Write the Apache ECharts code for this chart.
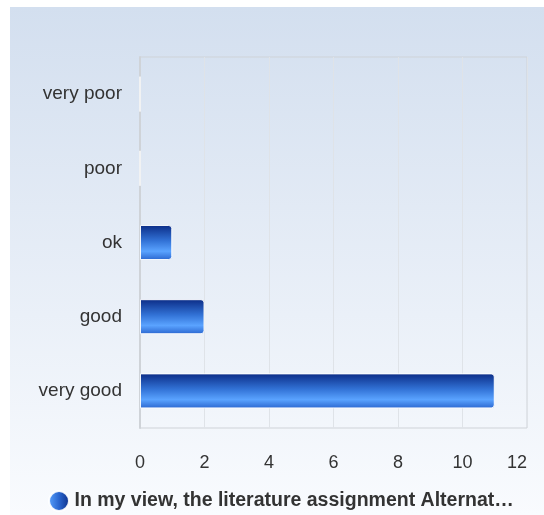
<!DOCTYPE html>
<html>
<head>
<meta charset="utf-8">
<script src="https://cdn.jsdelivr.net/npm/echarts@6/dist/echarts.min.js"></script>
<style>
    html, body { margin: 0; padding: 0; background: #fff; }
    #myChart { width: 544px; height: 515px; }
</style>
</head>
<body>
<div id="myChart"></div>
<script>
    // categories, bottom to top as ECharts draws a category y axis
    var categories = ['very good', 'good', 'ok', 'poor', 'very poor'];
    var counts = [11, 2, 1, 0, 0];
    var seriesName = 'In my view, the literature assignment Alternat\u2026';
    var xTicks = [0, 2, 4, 6, 8, 10, 12];

    var barColor = new echarts.graphic.LinearGradient(0, 0, 0, 1, [
        { offset: 0, color: '#0b2c86' },
        { offset: 0.45, color: '#3272d6' },
        { offset: 0.75, color: '#5aa3ff' },
        { offset: 1, color: '#2a66cf' }
    ]);
    var legendColor = new echarts.graphic.LinearGradient(0, 0, 1, 0, [
        { offset: 0, color: '#5aa3ff' },
        { offset: 0.5, color: '#2a66cf' },
        { offset: 1, color: '#0b2c86' }
    ]);

    var myChart = echarts.init(document.getElementById('myChart'));
    var options = {
        animation: false,
        graphic: [{
            type: 'rect',
            z: -10,
            silent: true,
            shape: { x: 10, y: 7, width: 534, height: 508 },
            style: {
                fill: new echarts.graphic.LinearGradient(0, 0, 0, 1, [
                    { offset: 0, color: '#d3dfef' },
                    { offset: 1, color: '#f9fbfe' }
                ])
            }
        }],
        grid: {
            left: 140,
            top: 57,
            right: 17,
            bottom: 87,
            show: true,
            borderColor: '#cfd3d8',
            borderWidth: 1,
            backgroundColor: 'transparent'
        },
        legend: {
            top: 490,
            left: 48,
            icon: 'circle',
            itemWidth: 21,
            itemHeight: 20,
            itemGap: 5,
            padding: 0,
            textStyle: { fontSize: 19.5, fontWeight: 'bold', color: '#333', fontFamily: 'Liberation Sans, Arial' },
            data: [{ name: seriesName, itemStyle: { color: legendColor } }]
        },
        xAxis: {
            type: 'value',
            min: xTicks[0],
            max: xTicks[xTicks.length - 1],
            interval: 2,
            axisLine: { show: false },
            axisTick: { show: false },
            axisLabel: { fontSize: 18, color: '#333', margin: 26, alignMaxLabel: 'right', fontFamily: 'Liberation Sans, Arial' },
            splitLine: { lineStyle: { color: '#dfe3e8', width: 1 } }
        },
        yAxis: {
            type: 'category',
            data: categories,
            axisLine: { show: true, lineStyle: { color: '#cfd3d8', width: 2 } },
            axisTick: { show: false },
            axisLabel: { fontSize: 19, color: '#333', margin: 18, fontFamily: 'Liberation Sans, Arial' },
            splitLine: { show: false }
        },
        series: [{
            name: seriesName,
            type: 'bar',
            data: counts,
            barWidth: 35,
            itemStyle: {
                color: barColor,
                borderColor: 'rgba(255,255,255,0.9)',
                borderWidth: 1,
                borderRadius: [0, 3, 3, 0]
            }
        }]
    };
    myChart.setOption(options);
</script>
</body>
</html>
